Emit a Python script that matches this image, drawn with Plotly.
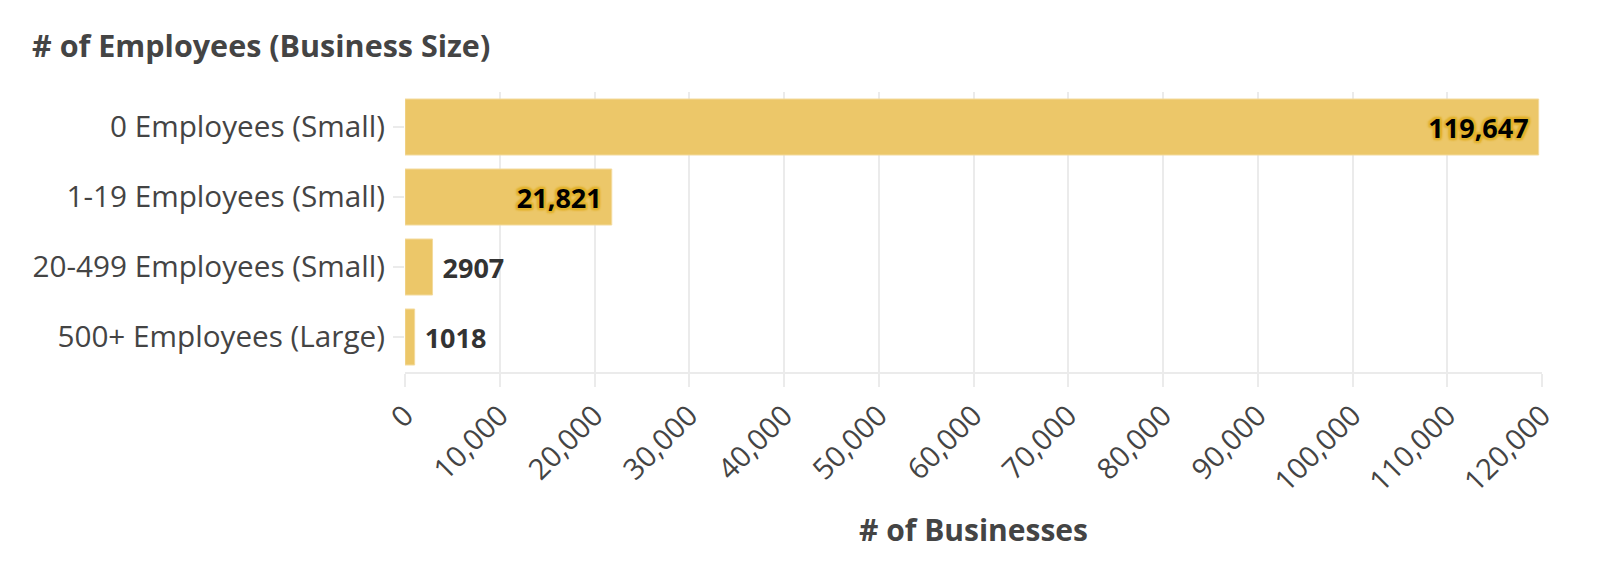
"""Horizontal bar chart: number of businesses by employee count."""

import plotly.graph_objects as go

# Theme
C_BAR = "#ECC769"
C_BAR_EDGE = "#F3DA9C"
C_HALO = "#E2B22E"
C_TEXT = "#444444"
C_LABEL = "#333333"
C_GRID = "#EBEBEB"
FONT = "Open Sans"

# Data
categories = [
    "0 Employees (Small)",
    "1-19 Employees (Small)",
    "20-499 Employees (Small)",
    "500+ Employees (Large)",
]
businesses = [119647, 21821, 2907, 1018]
bar_labels = ["119,647", "21,821", "2907", "1018"]

x_ticks = [0, 10000, 20000, 30000, 40000, 50000, 60000,
           70000, 80000, 90000, 100000, 110000, 120000]

halo = ", ".join(f"{dx}px {dy}px 2px {C_HALO}" for dx in (-2, 0, 2) for dy in (-2, 0, 2))

fig = go.Figure()
fig.add_trace(go.Bar(
    y=categories, x=businesses, orientation="h",
    marker=dict(color=C_BAR, line=dict(color=C_BAR_EDGE, width=1)),
    text=bar_labels, texttemplate="\u00a0%{text}\u00a0",
    textposition="auto", textangle=0, insidetextanchor="end",
    insidetextfont=dict(size=27, color="#000000", family=FONT, weight="bold", shadow=halo),
    outsidetextfont=dict(size=27, color=C_LABEL, family=FONT, weight="bold"),
    cliponaxis=False,
    hoverinfo="skip",
))

# note: page body adds 8px offset, margins are set relative to that
fig.update_layout(
    title=dict(
        text="<b># of Employees (Business Size)</b>",
        font=dict(size=30.5, color=C_TEXT, family=FONT),
        x=24 / 1620, xanchor="left", xref="container",
        y=1 - 38 / 578, yanchor="middle", yref="container",
    ),
    plot_bgcolor="#ffffff", paper_bgcolor="#ffffff",
    font=dict(color=C_TEXT, family=FONT, size=29),
    bargap=0.2,
    xaxis=dict(
        range=[0, 120000], tickvals=x_ticks, tickformat=",",
        tickangle=-45, tickfont=dict(size=29, color=C_TEXT),
        showgrid=True, gridcolor=C_GRID, gridwidth=2,
        showline=True, linecolor=C_GRID, linewidth=2,
        ticks="outside", ticklen=13, tickwidth=2, tickcolor=C_GRID,
        zeroline=False, automargin=False,
        title=dict(text="<b># of Businesses</b>", font=dict(size=30, color=C_TEXT), standoff=22),
    ),
    yaxis=dict(
        autorange="reversed", tickfont=dict(size=29.7, color=C_TEXT),
        showgrid=False, showline=False, zeroline=False, automargin=False,
        ticks="outside", ticklen=11, tickwidth=2, tickcolor=C_GRID,
        ticklabelstandoff=2,
    ),
    margin=dict(l=397, r=86, t=84, b=214),
    width=1620, height=578,
    showlegend=False,
)

fig.write_html("out.html")
